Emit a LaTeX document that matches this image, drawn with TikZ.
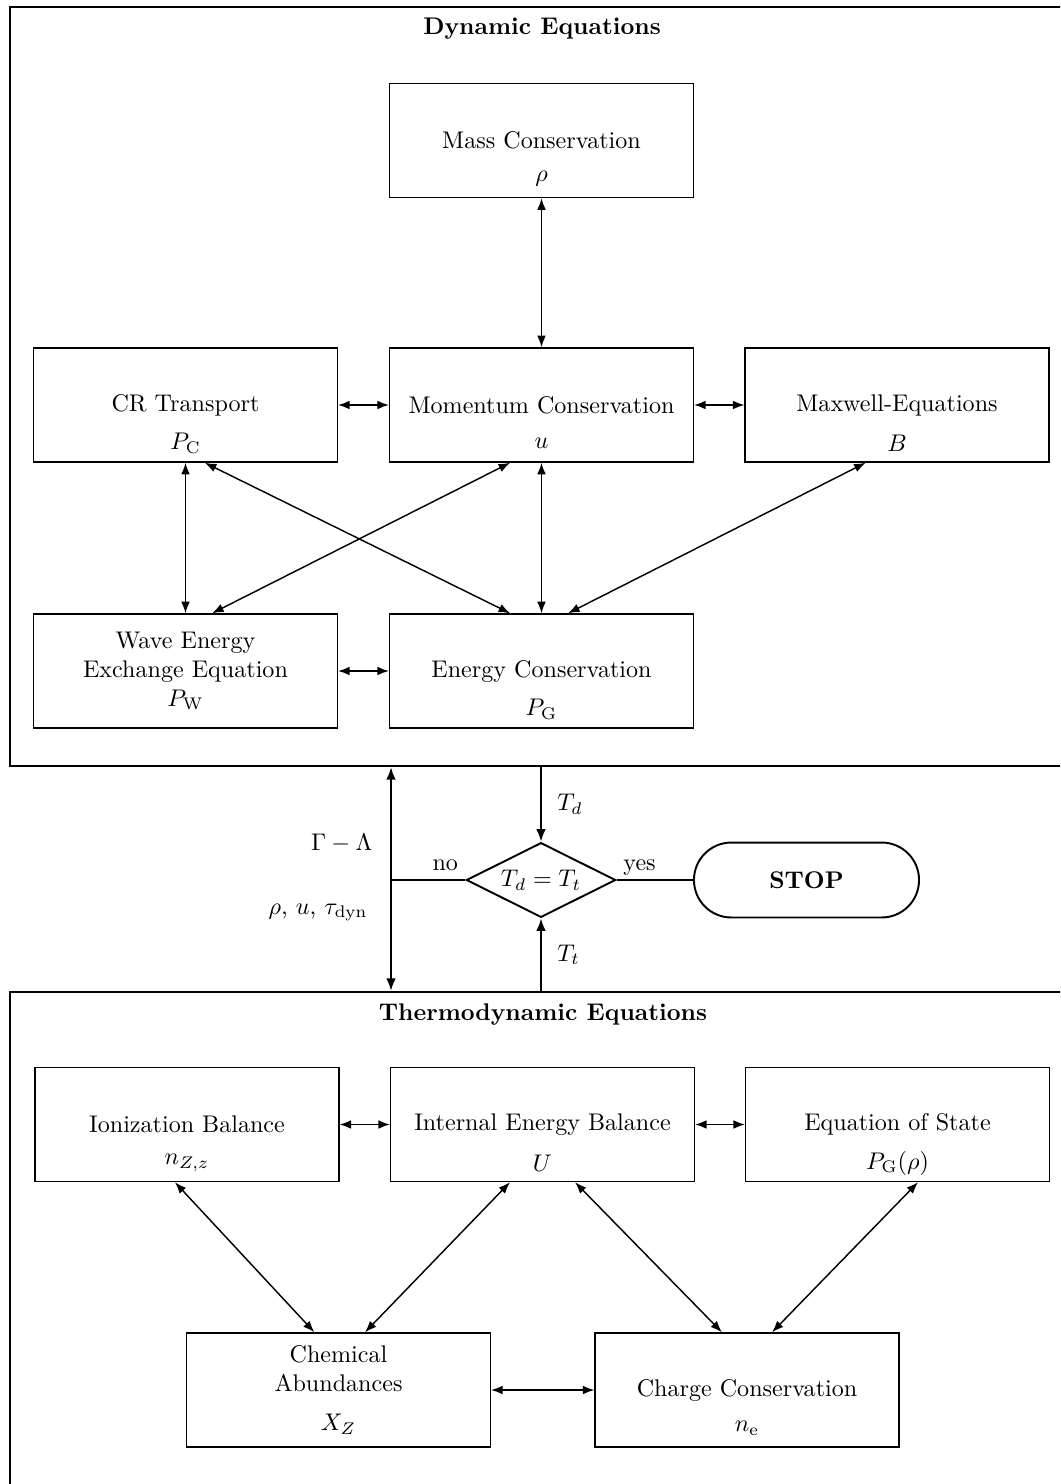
\documentclass[tikz,border=0pt]{standalone}
\usepackage{amsmath}
\usepackage{tikz}
\usetikzlibrary{shapes.geometric, arrows.meta, positioning, fit}
\tikzset{
  eqbox/.style={rectangle, draw, line width=0.6pt,
    minimum width=126pt, minimum height=47.3pt, align=center, inner sep=2pt},
  sym/.style={label={[yshift=-16pt]center:#1}},
  outerbox/.style={rectangle, draw, line width=0.9pt, inner sep=0pt},
  framehead/.style={font=\bfseries},
  check/.style={diamond, draw, line width=0.8pt, aspect=2, inner sep=0pt,
    minimum width=62pt, minimum height=31pt},
  stopbox/.style={rectangle, draw, line width=0.8pt, rounded corners=15.5pt,
    minimum width=93.4pt, minimum height=31.1pt, font=\bfseries},
  arrow/.style={<->, >={Latex[length=4.8pt,width=3.6pt]}, line width=0.6pt},
  flow/.style={->, >={Latex[length=5.2pt,width=4pt]}, line width=0.9pt},
  flowline/.style={line width=0.9pt},
  answer/.style={above, text depth=0pt}
}

\begin{document}
\begin{tikzpicture}[x=0.415pt, y=-0.415pt]
  \useasboundingbox (0,0) rectangle (1060,1484);
  \clip (0,0) rectangle (1060,1484);

  % dynamic part
  \node[outerbox, fit={(10,7) (1075,766)}] (dyn) {};
  \node[framehead] (dyntitle) at (542,29) {Dynamic Equations};
  \node[eqbox, sym={$\rho$}] (mass) at (541.5,140.5) {Mass Conservation};
  \node[eqbox, sym={$P_{\mathrm{C}}$}] (cr) at (185.5,405) {CR Transport};
  \node[eqbox, sym={$u$}] (mom) at (541.5,405) {Momentum Conservation};
  \node[eqbox, sym={$B$}] (max) at (897,405) {Maxwell-Equations};
  \node[eqbox] (wave) at (185.5,671) {Wave Energy\\Exchange Equation\\$P_{\mathrm{W}}$};
  \node[eqbox, sym={$P_{\mathrm{G}}$}] (energy) at (541.5,671) {Energy Conservation};

  \draw[arrow] (mass) -- (mom);
  \draw[arrow] (cr) -- (mom);
  \draw[arrow] (mom) -- (max);
  \draw[arrow] (cr) -- (wave);
  \draw[arrow] (mom) -- (energy);
  \draw[arrow] (wave) -- (energy);
  \draw[arrow] ([xshift=8pt]cr.south) -- ([xshift=-13pt]energy.north);
  \draw[arrow] ([xshift=-13pt]mom.south) -- ([xshift=11pt]wave.north);
  \draw[arrow] ([xshift=-13pt]max.south) -- ([xshift=11pt]energy.north);

  % thermodynamic part
  \node[outerbox, fit={(10,992) (1075,1500)}] (thermo) {};
  \node[framehead] (thermotitle) at (543,1015) {Thermodynamic Equations};
  \node[eqbox, sym={$n_{Z,z}$}] (ion) at (187,1124.5) {Ionization Balance};
  \node[eqbox, sym={$U$}] (intern) at (542.5,1124.5) {Internal Energy Balance};
  \node[eqbox, sym={$P_{\mathrm{G}}(\rho)$}] (eos) at (897.5,1124.5) {Equation of State};
  \node[eqbox] (chem) at (338.5,1390) {Chemical\\Abundances\\[4pt]$X_Z$};
  \node[eqbox, sym={$n_{\mathrm{e}}$}] (charge) at (747,1390) {Charge Conservation};

  \draw[arrow] (ion) -- (intern);
  \draw[arrow] (intern) -- (eos);
  \draw[arrow] (chem) -- (charge);
  \draw[arrow] ([xshift=-5pt]ion.south) -- ([xshift=-10pt]chem.north);
  \draw[arrow] ([xshift=-13.5pt]intern.south) -- ([xshift=11pt]chem.north);
  \draw[arrow] ([xshift=13.5pt]intern.south) -- ([xshift=-10.4pt]charge.north);
  \draw[arrow] ([xshift=8.5pt]eos.south) -- ([xshift=10.4pt]charge.north);

  % iteration
  \node[check] (test) at (541,880) {$T_d = T_t$};
  \node[stopbox] (stop) at (806.5,880) {STOP};
  \coordinate (loop) at (391,880);
  \draw[flow] (dyn.south -| test) -- node[right=3pt] {$T_d$} (test.north);
  \draw[flow] (thermo.north -| test) -- node[right=3pt] {$T_t$} (test.south);
  \draw[flowline] (loop) -- node[answer, pos=0.73] {no} (test.west);
  \draw[flowline] (test.east) -- node[answer, pos=0.3] {yes} (stop.west);
  \draw[flow, <->] (dyn.south -| loop) --
    node[pos=0.34, left=4pt] {$\Gamma - \Lambda$}
    node[pos=0.65, left=6pt] {$\rho$, $u$, $\tau_{\mathrm{dyn}}$} (thermo.north -| loop);
\end{tikzpicture}
\end{document}
